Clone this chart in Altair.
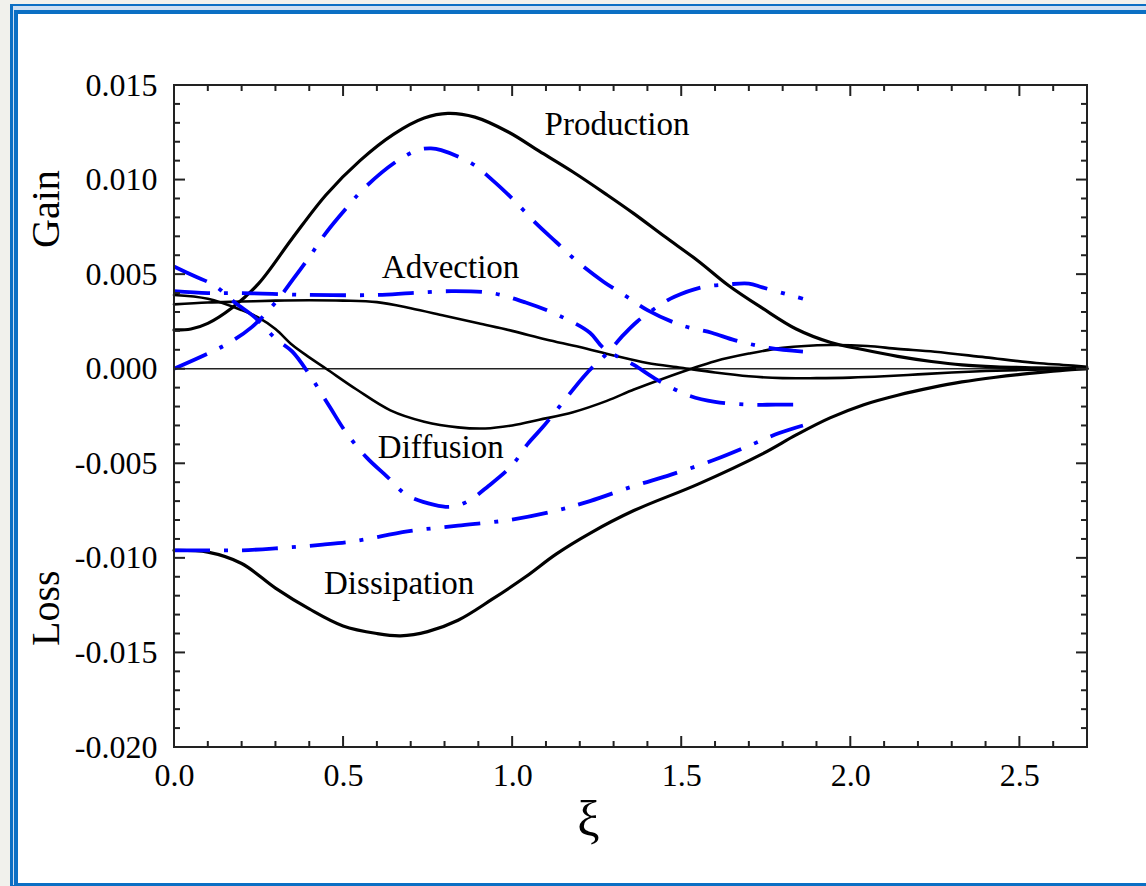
import altair as alt
import pandas as pd

# ---------------- data ----------------
prod_k_x = [0, 0.05, 0.10, 0.17, 0.25, 0.35, 0.45, 0.55, 0.65, 0.74, 0.81, 0.89, 0.99, 1.08, 1.18, 1.28, 1.36, 1.45, 1.55, 1.64, 1.74, 1.84, 1.94, 2.04, 2.14, 2.24, 2.33, 2.43, 2.55, 2.7]
prod_k_y = [0.00205, 0.0021, 0.0024, 0.0032, 0.0045, 0.0069, 0.0092, 0.0110, 0.0124, 0.01325, 0.0135, 0.0133, 0.0125, 0.0115, 0.0104, 0.0092, 0.0082, 0.0070, 0.0057, 0.0044, 0.0032, 0.0021, 0.0014, 0.0010, 0.00065, 0.00038, 0.0002, 0.0001, 0.00005, 0.0]

adv_k_x = [0, 0.1, 0.2, 0.3, 0.4, 0.5, 0.6, 0.7, 0.8, 0.9, 1.0, 1.1, 1.2, 1.3, 1.4, 1.5, 1.6, 1.7, 1.8, 1.9, 2.0, 2.1, 2.2, 2.3, 2.4, 2.5, 2.6, 2.7]
adv_k_y = [0.0034, 0.0035, 0.00355, 0.0036, 0.00362, 0.0036, 0.00352, 0.0032, 0.0028, 0.0024, 0.0020, 0.00155, 0.00115, 0.0007, 0.0003, 0.00005, -0.0002, -0.0004, -0.0005, -0.0005, -0.00047, -0.0004, -0.0003, -0.0002, -0.00012, -0.00007, -0.00003, 0.0]

dif_k_x = [0, 0.1, 0.2, 0.25, 0.3, 0.35, 0.4, 0.45, 0.54, 0.64, 0.74, 0.84, 0.92, 1.0, 1.08, 1.18, 1.28, 1.36, 1.45, 1.53, 1.6, 1.7, 1.8, 1.94, 2.05, 2.14, 2.25, 2.4, 2.55, 2.63, 2.7]
dif_k_y = [0.0039, 0.0037, 0.0031, 0.0027, 0.0021, 0.00125, 0.0006, 0.0, -0.0011, -0.0022, -0.0028, -0.0031, -0.00316, -0.0030, -0.0027, -0.0023, -0.0017, -0.0011, -0.0005, 0.0, 0.0004, 0.0008, 0.0011, 0.00125, 0.0012, 0.00105, 0.0009, 0.0006, 0.0003, 0.0002, 0.0001]

dis_k_x = [0, 0.1, 0.2, 0.3, 0.4, 0.5, 0.6, 0.67, 0.75, 0.84, 0.94, 1.04, 1.13, 1.23, 1.36, 1.55, 1.74, 1.84, 1.94, 2.04, 2.14, 2.24, 2.33, 2.43, 2.53, 2.62, 2.7]
dis_k_y = [-0.0096, -0.0097, -0.0103, -0.0116, -0.0127, -0.0136, -0.0140, -0.01412, -0.0139, -0.0133, -0.0122, -0.0110, -0.0098, -0.0087, -0.0075, -0.0061, -0.0045, -0.0035, -0.0026, -0.0019, -0.0014, -0.0010, -0.0007, -0.00045, -0.00025, -0.0001, 0.0]

prod_b_x = [0, 0.10, 0.16, 0.23, 0.30, 0.355, 0.40, 0.45, 0.51, 0.56, 0.65, 0.72, 0.76, 0.79, 0.88, 0.94, 1.0, 1.07, 1.13, 1.19, 1.27, 1.34, 1.40, 1.5, 1.59, 1.66, 1.76, 1.86]
prod_b_y = [0.0, 0.0008, 0.00134, 0.0022, 0.0035, 0.0048, 0.0059, 0.0072, 0.0085, 0.0095, 0.01086, 0.01156, 0.01165, 0.01156, 0.01086, 0.0100, 0.0090, 0.0077, 0.0067, 0.0057, 0.0046, 0.0038, 0.0031, 0.0023, 0.0019, 0.0015, 0.0011, 0.0009]

adv_b_x = [0, 0.1, 0.2, 0.4, 0.6, 0.7, 0.82, 0.94, 1.04, 1.14, 1.23, 1.27, 1.36, 1.43, 1.52, 1.6, 1.7, 1.78, 1.86]
adv_b_y = [0.0041, 0.0040, 0.0040, 0.0039, 0.0039, 0.0040, 0.0041, 0.0040, 0.0035, 0.0028, 0.0019, 0.0011, 0.0002, -0.0006, -0.0014, -0.00175, -0.0019, -0.0019, -0.0019]

dif_b_x = [0, 0.06, 0.12, 0.18, 0.24, 0.30, 0.35, 0.40, 0.46, 0.51, 0.57, 0.63, 0.69, 0.77, 0.82, 0.87, 0.93, 1.0, 1.045, 1.09, 1.14, 1.22, 1.28, 1.33, 1.37, 1.44, 1.48, 1.56, 1.64, 1.70, 1.74, 1.82, 1.86]
dif_b_y = [0.0054, 0.0049, 0.0044, 0.0035, 0.0027, 0.0016, 0.0009, -0.0003, -0.0020, -0.0034, -0.0047, -0.0057, -0.0067, -0.0072, -0.0073, -0.0070, -0.0062, -0.0051, -0.0040, -0.0031, -0.0020, -0.00025, 0.0008, 0.0018, 0.0025, 0.0034, 0.0038, 0.0043, 0.00446, 0.0045, 0.0043, 0.0039, 0.0037]

dis_b_x = [0, 0.1, 0.2, 0.3, 0.44, 0.54, 0.69, 0.84, 0.99, 1.13, 1.23, 1.36, 1.47, 1.6, 1.71, 1.79, 1.86]
dis_b_y = [-0.0096, -0.0096, -0.0096, -0.0095, -0.0093, -0.0091, -0.0086, -0.0083, -0.0080, -0.0075, -0.0070, -0.0062, -0.0056, -0.0048, -0.0040, -0.0034, -0.0030]

labels_text = ["Production", "Advection", "Diffusion", "Dissipation"]
labels_x = [1.31, 0.818, 0.789, 0.666]
labels_y = [0.01236, 0.00478, -0.00474, -0.01189]

side_text = ["Gain", "Loss"]
side_y = [0.00844, -0.01266]

x_major = [0.0, 0.5, 1.0, 1.5, 2.0, 2.5]
x_minor = [0.1, 0.2, 0.3, 0.4, 0.6, 0.7, 0.8, 0.9, 1.1, 1.2, 1.3, 1.4, 1.6, 1.7, 1.8, 1.9, 2.1, 2.2, 2.3, 2.4, 2.6]
y_major = [-0.020, -0.015, -0.010, -0.005, 0.0, 0.005, 0.010, 0.015]
y_minor = [-0.019, -0.018, -0.017, -0.016, -0.014, -0.013, -0.012, -0.011, -0.009, -0.008, -0.007, -0.006,
           -0.004, -0.003, -0.002, -0.001, 0.001, 0.002, 0.003, 0.004, 0.006, 0.007, 0.008, 0.009,
           0.011, 0.012, 0.013, 0.014]

# ---------------- tables ----------------
def series_df(name, xs, ys):
    return pd.DataFrame({"xi": xs, "val": ys, "series": name})

black_df = pd.concat([
    series_df("Production", prod_k_x, prod_k_y),
    series_df("Advection", adv_k_x, adv_k_y),
    series_df("Diffusion", dif_k_x, dif_k_y),
    series_df("Dissipation", dis_k_x, dis_k_y),
])
black_df["w"] = black_df["series"].map({"Production": 3.2, "Dissipation": 3.2, "Advection": 2.6, "Diffusion": 2.6})
blue_df = pd.concat([
    series_df("Production", prod_b_x, prod_b_y),
    series_df("Advection", adv_b_x, adv_b_y),
    series_df("Diffusion", dif_b_x, dif_b_y),
    series_df("Dissipation", dis_b_x, dis_b_y),
])
ann_df = pd.DataFrame({"xi": labels_x, "val": labels_y, "txt": labels_text})
side_df = pd.DataFrame({"val": side_y, "txt": side_text})
one = pd.DataFrame({"a": [0]})

W, H = 913, 662
FONT = "Liberation Serif"
xs = alt.Scale(domain=[0, 2.7], nice=False, zero=False)
ys = alt.Scale(domain=[-0.02, 0.015], nice=False, zero=False)

# ---------------- page decoration (blue double frame) ----------------
def deco(x1, y1, x2, y2, color):
    return alt.Chart(one).mark_rect(color=color).encode(
        x=alt.value(x1), x2=alt.value(x2), y=alt.value(y1), y2=alt.value(y2))

frame_layers = [
    deco(-164, -81, 990, 802, "#0b6fc4"),
    deco(-161, -79, 990, 800, "#cfe0f2"),
    deco(-160, -75, 990, 801, "#0b6fc4"),
    deco(-156, -71, 990, 798, "#ffffff"),
]

# ---------------- axes (labels only; identical in every layer) ----------------
x_axis = alt.Axis(values=x_major, format=".1f", labelFont=FONT, labelFontSize=32, labelColor="#000",
                  ticks=False, tickSize=0, domain=False, grid=False, labelPadding=38,
                  labelBaseline="alphabetic", labelFlush=False, labelOverlap=False, zindex=2,
                  title="ξ", titleFont=FONT, titleFontSize=50, titleFontWeight="normal",
                  titleColor="#000", titleX=414, titleY=88, titleBaseline="alphabetic", titleAlign="center")
y_axis = alt.Axis(values=y_major,
                  labelExpr="(datum.value < 0 ? '-' : '') + format(abs(datum.value), '.3f')",
                  labelFont=FONT, labelFontSize=32, labelColor="#000", zindex=2,
                  ticks=False, tickSize=0, domain=False, grid=False, labelPadding=17,
                  labelBaseline="middle", labelFlush=False, labelOverlap=False, title=None)

def X(field):
    return alt.X(field, scale=xs, axis=x_axis)

def Y(field):
    return alt.Y(field, scale=ys, axis=y_axis)

zero_line = alt.Chart(one).mark_rule(color="#222", strokeWidth=1.5).encode(y=Y("a:Q"))

black = alt.Chart(black_df).mark_line(color="#000", interpolate="catmull-rom", strokeCap="round").encode(
    x=X("xi:Q"),
    y=Y("val:Q"),
    detail="series:N",
    strokeWidth=alt.StrokeWidth("w:Q", scale=None, legend=None),
)

blue = alt.Chart(blue_df).mark_line(color="#0000ff", strokeWidth=3.8, interpolate="catmull-rom",
                                    strokeDash=[36, 14, 4, 14], strokeCap="butt").encode(
    x=X("xi:Q"),
    y=Y("val:Q"),
    detail="series:N",
)

# ---------------- inward frame ticks ----------------
def xticks(vals, length):
    d = pd.DataFrame({"t": vals})
    bottom = alt.Chart(d).mark_rule(color="#222", strokeWidth=2).encode(
        x=X("t:Q"), y=alt.value(H), y2=alt.value(H - length))
    top = alt.Chart(d).mark_rule(color="#222", strokeWidth=2).encode(
        x=X("t:Q"), y=alt.value(0), y2=alt.value(length))
    return [bottom, top]

def yticks(vals, length):
    d = pd.DataFrame({"t": vals})
    left = alt.Chart(d).mark_rule(color="#222", strokeWidth=2).encode(
        y=Y("t:Q"), x=alt.value(0), x2=alt.value(length))
    right = alt.Chart(d).mark_rule(color="#222", strokeWidth=2).encode(
        y=Y("t:Q"), x=alt.value(W), x2=alt.value(W - length))
    return [left, right]

tick_layers = xticks(x_major, 11) + xticks(x_minor, 6) + yticks(y_major, 11) + yticks(y_minor, 6)

plot_frame = alt.Chart(one).mark_rect(fillOpacity=0, stroke="#222", strokeWidth=2).encode(
    x=alt.value(0), x2=alt.value(W), y=alt.value(0), y2=alt.value(H))

annotations = alt.Chart(ann_df).mark_text(font=FONT, fontSize=33, color="#000",
                                          baseline="alphabetic", align="center").encode(
    x=X("xi:Q"),
    y=Y("val:Q"),
    text="txt:N",
)

side_labels = alt.Chart(side_df).mark_text(font=FONT, fontSize=40, color="#000", angle=270,
                                           baseline="alphabetic", align="center").encode(
    x=alt.value(-115),
    y=Y("val:Q"),
    text="txt:N",
)

chart = alt.layer(
    *frame_layers, zero_line, black, blue, *tick_layers, plot_frame, annotations, side_labels
).properties(
    width=W, height=H,
    autosize=alt.AutoSizeParams(type="none"),
    padding={"left": 174, "top": 85, "right": 59, "bottom": 139},
    background="#f1f1ec",
).configure_view(stroke=None)

chart.save("out.html", embed_options={"renderer": "svg", "actions": False})
